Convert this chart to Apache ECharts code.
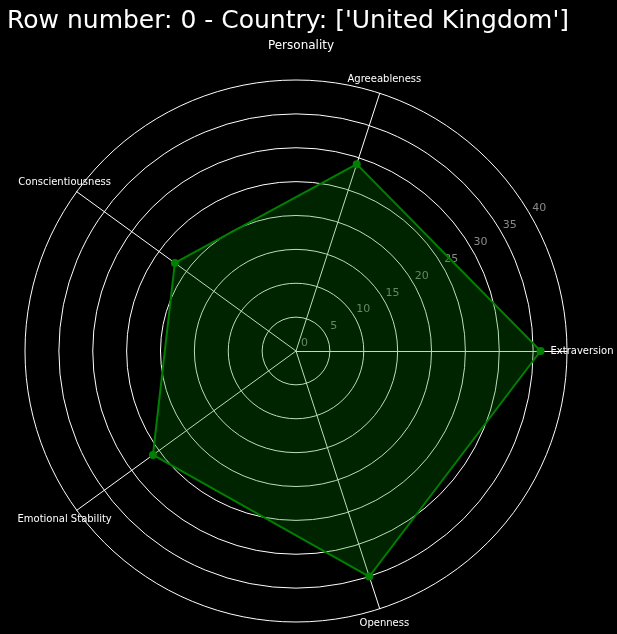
<!DOCTYPE html>
<html>
<head>
<meta charset="utf-8">
<script src="https://cdn.jsdelivr.net/npm/echarts@6/dist/echarts.min.js"></script>
<style>
html,body{margin:0;padding:0;background:#000;}
#chart{width:617px;height:634px;}
</style>
</head>
<body>
<div id="chart"></div>
<script>
const titleText = "Row number: 0 - Country: ['United Kingdom']";
const subtitleText = "Personality";
const categories = ["Extraversion", "Agreeableness", "Conscientiousness", "Emotional Stability", "Openness"];
const values = [36.1, 29.0, 22.1, 26.1, 35.0];
const radialMax = 40;
const radialStep = 5;

const CX = 296, CY = 351, R = 271;
const font = "DejaVu Sans";

const chart = echarts.init(document.getElementById('chart'), null, {renderer: 'canvas'});
chart.setOption({
  backgroundColor: '#000000',
  animation: false,
  title: [
    {text: titleText, left: 2, top: 4,
     textStyle: {color: '#ffffff', fontSize: 25, fontWeight: 'normal', fontFamily: font}},
    {text: subtitleText, left: 296, top: 35, textAlign: 'center',
     textStyle: {color: '#ffffff', fontSize: 12, fontWeight: 'normal', fontFamily: font}}
  ],
  radar: {
    center: [CX, CY],
    radius: R,
    startAngle: 0,
    shape: 'circle',
    splitNumber: radialMax / radialStep,
    indicator: categories.map(n => ({name: n, min: 0, max: radialMax})),
    axisName: {color: '#ffffff', fontSize: 10, fontFamily: font, align: 'center', verticalAlign: 'middle'},
    axisNameGap: 15,
    axisLine: {lineStyle: {color: '#ffffff', width: 1}},
    splitLine: {lineStyle: {color: '#ffffff', width: 1}},
    splitArea: {show: false},
    axisTick: {show: false},
    axisLabel: {show: false}
  },
  polar: {center: [CX, CY], radius: R},
  angleAxis: {type: 'value', min: 0, max: 360, startAngle: 30, show: false},
  radiusAxis: {
    type: 'value', min: 0, max: radialMax, interval: radialStep,
    axisLine: {show: false}, axisTick: {show: false}, splitLine: {show: false},
    axisLabel: {color: '#8a8a8a', fontSize: 11, fontFamily: font, margin: 0,
      align: 'center', verticalAlign: 'bottom', padding: [0, 0, 2, 17]}
  },
  series: [{
    type: 'radar',
    symbol: 'circle',
    symbolSize: 8,
    lineStyle: {color: '#008000', width: 2},
    itemStyle: {color: '#008000'},
    areaStyle: {color: 'rgba(0,128,0,0.27)', opacity: 1},
    data: [{value: values, name: 'United Kingdom'}]
  }]
});
</script>
</body>
</html>
